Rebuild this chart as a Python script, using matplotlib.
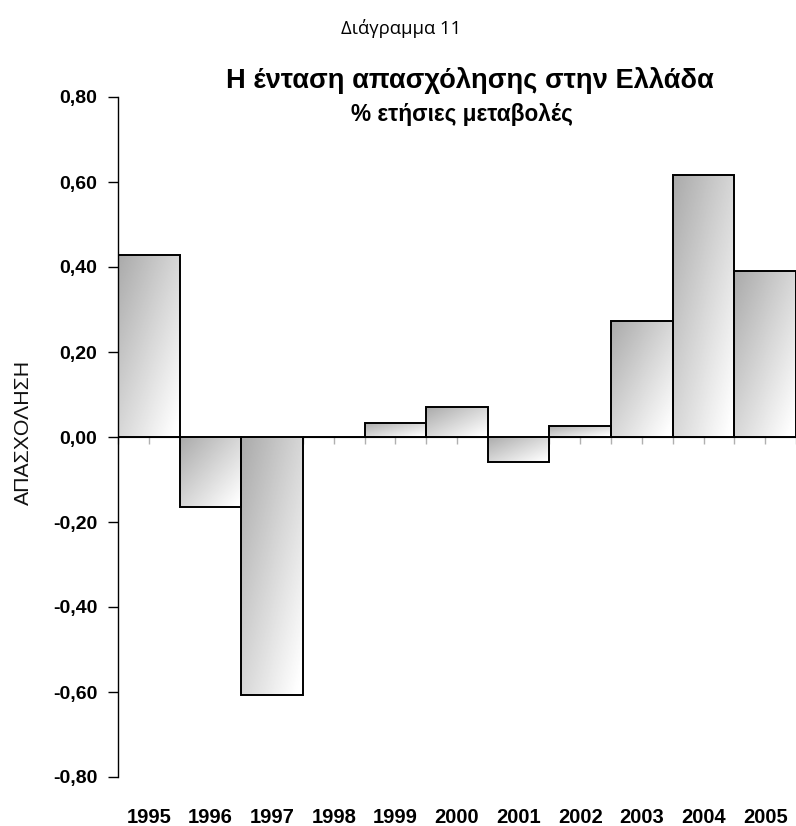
import numpy as np
import matplotlib
matplotlib.use("Agg")
import matplotlib.pyplot as plt

years = ["1995", "1996", "1997", "1998", "1999", "2000", "2001", "2002", "2003", "2004", "2005"]
values = [0.428, -0.165, -0.607, 0.0, 0.033, 0.070, -0.059, 0.026, 0.273, 0.616, 0.390]
yticks = [-0.8, -0.6, -0.4, -0.2, 0.0, 0.2, 0.4, 0.6, 0.8]
ytick_labels = ["-0,80", "-0,60", "-0,40", "-0,20", "0,00", "0,20", "0,40", "0,60", "0,80"]

W, H = 796, 826
fig = plt.figure(figsize=(W / 100, H / 100), dpi=100)
ax = fig.add_axes([118 / W, 1 - 777 / H, (796 - 118) / W, (777 - 97) / H])

x = np.arange(len(years))
bars = ax.bar(x, values, width=1.0, facecolor="none", edgecolor="black", linewidth=1.4, zorder=3)

# gradient fill per bar (dark upper-left -> white lower-right)
ny, nx = 64, 64
uu, vv = np.meshgrid(np.linspace(0, 1, nx), np.linspace(0, 1, ny))
grad = (uu + vv) / 2.0
for b, v in zip(bars, values):
    if v == 0:
        continue
    x0 = b.get_x(); w = b.get_width()
    y0 = min(0, v); y1 = max(0, v)
    im = ax.imshow(grad, cmap="gray", vmin=-1.9, vmax=0.95, extent=[x0, x0 + w, y0, y1],
                   origin="upper", aspect="auto", zorder=2, interpolation="bilinear")
    im.set_clip_path(b)

ax.set_xlim(-0.5, len(years) - 0.5)
ax.set_ylim(-0.8, 0.8)

for s in ["top", "right", "bottom"]:
    ax.spines[s].set_visible(False)
ax.spines["left"].set_color("black")
ax.spines["left"].set_linewidth(1.0)

ax.set_yticks(yticks)
ax.set_yticklabels(ytick_labels, fontfamily="Liberation Sans", fontweight="bold", fontsize=14)
ax.tick_params(axis="y", direction="out", length=7, width=1, color="black", pad=8)

ax.set_xticks(x)
ax.set_xticklabels(years, fontfamily="Liberation Sans", fontweight="bold", fontsize=14.5)
ax.tick_params(axis="x", length=0, pad=22)

# zero line with ticks (gray)
sec = ax.secondary_xaxis(0.5)
sec.spines["bottom"].set_color("#b0b0b0")
sec.spines["bottom"].set_linewidth(1.5)
sec.set_xticks(x)
sec.set_xticklabels([])
sec.set_xticks(np.arange(-0.5, len(years), 1.0), minor=True)
sec.tick_params(axis="x", which="both", direction="in", length=5, width=1, color="#b0b0b0",
                labelbottom=False, labeltop=False)

ax.set_ylabel("ΑΠΑΣΧΟΛΗΣΗ", fontfamily="Liberation Sans", fontsize=15.3, color="#111111")
ax.yaxis.set_label_coords((33 - 118) / 678, (777 - 432) / 680)

fig.canvas.draw()
r = fig.canvas.get_renderer()

def fit_text(xc, yc, s, target_w, **kw):
    t = fig.text(xc / W, 1 - yc / H, s, ha="center", va="center", **kw)
    w = t.get_window_extent(renderer=r).width
    t.set_fontsize(t.get_fontsize() * target_w / w)
    return t

fit_text(401, 28, "Διάγραμμα 11", 120, fontfamily="Open Sans", fontsize=13)
fit_text(470, 81, "Η ένταση απασχόλησης στην Ελλάδα", 486, fontfamily="Liberation Sans", fontweight="bold", fontsize=18)
fit_text(462, 114, "% ετήσιες μεταβολές", 222, fontfamily="Liberation Sans", fontweight="bold", fontsize=14)

fig.savefig("out.png", dpi=100)
